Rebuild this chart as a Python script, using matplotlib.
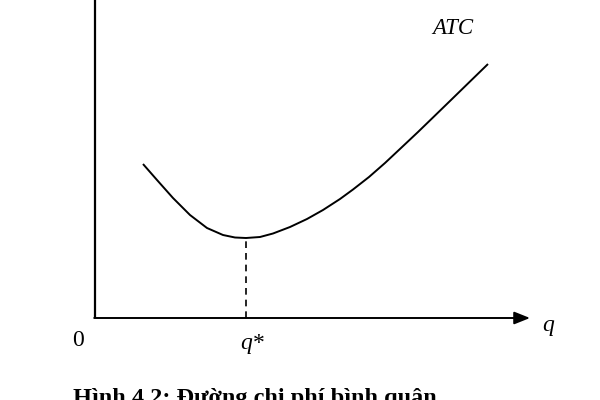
import matplotlib
matplotlib.use("Agg")
import matplotlib.pyplot as plt

# ATC curve (quantity q, average total cost)
q_vals = [4.8, 6.2, 7.8, 9.5, 11.2, 12.8, 14.0, 15.1, 16.5, 17.8, 19.5, 21.2,
          22.8, 24.5, 25.8, 27.4, 29.0, 30.6, 32.3, 33.9, 35.6, 37.5, 39.3]
atc_vals = [15.4, 13.8, 12.0, 10.3, 9.0, 8.3, 8.05, 8.0, 8.1, 8.45, 9.1, 9.9,
            10.8, 11.9, 12.85, 14.1, 15.5, 17.0, 18.6, 20.15, 21.8, 23.65, 25.4]
q_star = 15.1
atc_min = 8.0
curve_label = "ATC"
x_label = "q"
origin_label = "0"
qstar_label = "q*"
caption = "Hình 4.2: Đường chi phí bình quân"

fig = plt.figure(figsize=(6, 4), dpi=100)
ax = fig.add_axes([0, 0, 1, 1])
ax.set_xlim(-9.5, 50.5)
ax.set_ylim(-8.2, 31.8)
ax.axis("off")

serif = ["Liberation Serif", "DejaVu Serif"]

# axes
ax.plot([0, 0], [0, 31.8], color="black", lw=1.6, solid_capstyle="butt")
ax.annotate("", xy=(43.5, 0), xytext=(-0.08, 0),
            arrowprops=dict(arrowstyle="-|>,head_length=0.95,head_width=0.38",
                            color="black", lw=1.4, shrinkA=0, shrinkB=0,
                            mutation_scale=10))

# curve
ax.plot(q_vals, atc_vals, color="black", lw=1.4,
        solid_joinstyle="round", solid_capstyle="butt")

# dashed line at minimum
ax.plot([q_star, q_star], [0, atc_min], color="black", lw=1.2,
        linestyle=(0, (4, 3)))

# labels
ax.text(35.8, 28.9, curve_label, fontsize=16.5, fontstyle="italic",
        family=serif, ha="center", va="center")
ax.text(45.3, -0.8, x_label, fontsize=17, fontstyle="italic",
        family=serif, ha="center", va="center")
ax.text(-1.7, -2.3, origin_label, fontsize=17, family=serif,
        ha="center", va="center")
ax.text(q_star + 0.6, -2.5, qstar_label, fontsize=17, fontstyle="italic",
        family=serif, ha="center", va="center")
ax.text(-2.2, -8.6, caption, fontsize=17.5, fontweight="bold",
        family=serif, ha="left", va="baseline")

fig.savefig("out.png", dpi=100)
